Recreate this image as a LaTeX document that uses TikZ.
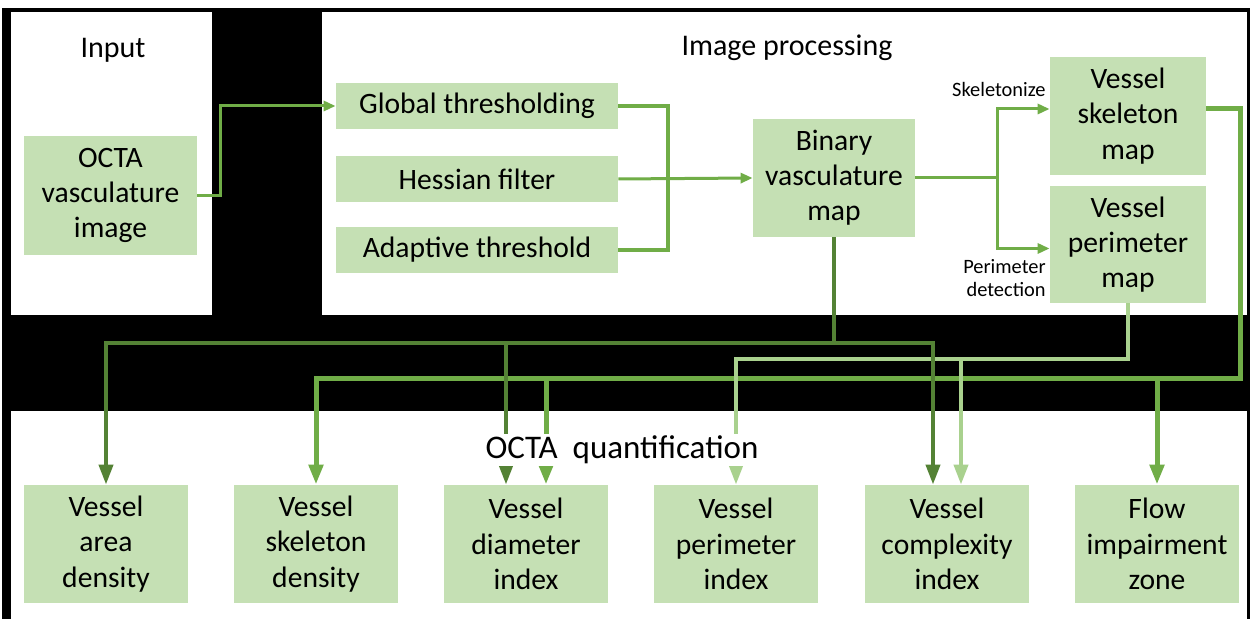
\documentclass[tikz,border=0pt]{standalone}
\usepackage{fontspec}
\setmainfont{Carlito}
\usetikzlibrary{arrows.meta}
\definecolor{boxgreen}{HTML}{C5E0B4}
\definecolor{midgreen}{HTML}{70AD47}
\definecolor{darkgreen}{HTML}{548235}
\definecolor{lightgreen}{HTML}{A9D18E}
\tikzset{
  stage/.style={fill=boxgreen, inner sep=0pt, align=center, font=\fontsize{14.8}{17.6}\selectfont},
  note/.style={inner sep=0pt, align=right, font=\fontsize{10.2}{11.6}\selectfont},
  title/.style={inner sep=0pt, font=\fontsize{15}{17}\selectfont},
  link/.style={draw=midgreen, line width=1.5pt, -{Triangle[width=5pt,length=6pt]}},
  merge/.style={draw=midgreen, line width=2.2pt},
  feed/.style={line width=2pt, -{Triangle[width=7pt,length=10pt]}},
}

\begin{document}
\begin{tikzpicture}[x=0.5pt,y=-0.5pt]
\useasboundingbox (0,0) rectangle (1250,619);
% black frame and white panels
\fill[black] (2,8) rectangle (1250,619);
\fill[white] (11,12) rectangle (212,315);
\fill[white] (322,12) rectangle (1247,315);
\fill[white] (11,411) rectangle (1247,619);

\node[title] (input) at (113,50) {Input};
\node[title] (proc) at (787,48) {Image processing};

\node[stage, minimum width=86.5pt, minimum height=59.5pt] (octa) at (110.5,195.5) {OCTA\\vasculature\\image};
\node[stage, minimum width=141pt, minimum height=23pt] (global) at (477,106) {Global thresholding};
\node[stage, minimum width=141pt, minimum height=23pt] (hessian) at (477,179) {Hessian filter};
\node[stage, minimum width=141pt, minimum height=23pt] (adaptive) at (477,250) {Adaptive threshold};
\node[stage, minimum width=81pt, minimum height=59pt] (binary) at (834,178) {Binary\\vasculature\\map};
\node[stage, minimum width=78pt, minimum height=59pt] (skel) at (1128,116) {Vessel\\skeleton\\map};
\node[stage, minimum width=78pt, minimum height=58.5pt] (perim) at (1128,244.5) {Vessel\\perimeter\\map};
\node[note, anchor=east] (skelnote) at (1046,90) {Skeletonize};
\node[note, anchor=east] (perimnote) at (1046,278) {Perimeter\\detection};

% quantification boxes
\foreach \name/\x/\txt in {area/106/{Vessel\\area\\density}, skeldens/316/{Vessel\\skeleton\\density},
  diam/526/{Vessel\\diameter\\index}, perimidx/736/{Vessel\\perimeter\\index},
  complex/947/{Vessel\\complexity\\index}, flow/1157/{Flow\\impairment\\zone}}
  \node[stage, minimum width=82pt, minimum height=59pt] (\name) at (\x,544) {\txt};

% image processing links
\draw[link] (octa.east) -- ++(23,0) |- (global.west);
\coordinate (join) at (668,179);
\draw[merge] (global.east) -| (join) |- (adaptive.east);
\draw[link] (hessian.east) -- (binary.west);
\coordinate (split) at (997,178);
\draw[link] (binary.east) -- (split) |- ([yshift=3.5pt]skel.west);
\draw[link] (split) |- ([yshift=-2pt]perim.west);

% feeds into the quantification
\coordinate (dk) at (0,343);
\coordinate (lt) at (0,359);
\coordinate (md) at (1240,379);
\draw[feed, midgreen, line width=2.5pt] ([yshift=3.5pt]skel.east) -| (md) -| (skeldens.north);
\draw[feed, midgreen, line width=2.5pt] (md) -| ([xshift=10pt]diam.north);
\draw[feed, midgreen, line width=2.5pt] (md) -| (flow.north);
\draw[feed, lightgreen] (perim.south) |- (perimidx.north |- lt) -- (perimidx.north);
\draw[feed, lightgreen] (perim.south |- lt) -| ([xshift=7pt]complex.north);
\draw[feed, darkgreen] (binary.south) |- (area.north |- dk) -- (area.north);
\draw[feed, darkgreen] (binary.south |- dk) -| ([xshift=-10pt]diam.north);
\draw[feed, darkgreen] (binary.south |- dk) -| ([xshift=-7pt]complex.north);

\node[fill=white, inner sep=1pt, font=\fontsize{16.5}{18}\selectfont] (quant) at (622,450) {OCTA\ \ quantification};
\end{tikzpicture}
\end{document}
